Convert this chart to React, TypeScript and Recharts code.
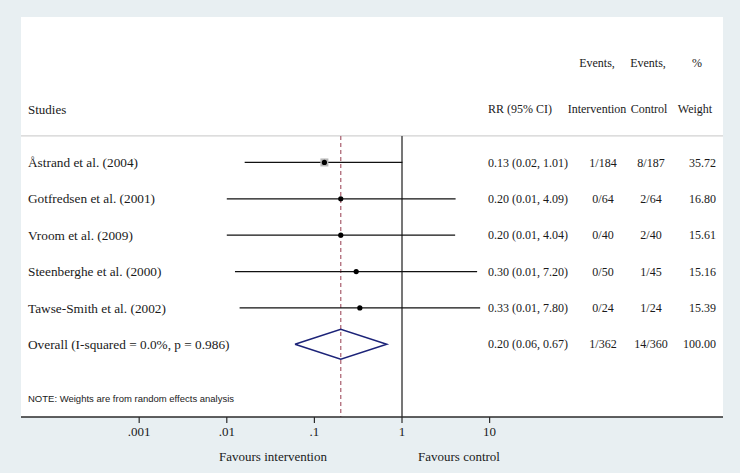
import React from "react";
import {
  ComposedChart,
  XAxis,
  YAxis,
  Scatter,
  ReferenceLine,
  CartesianGrid,
} from "recharts";

// ---- data ----
const studies = [
  "Åstrand et al. (2004)",
  "Gotfredsen et al. (2001)",
  "Vroom et al. (2009)",
  "Steenberghe et al. (2000)",
  "Tawse-Smith et al. (2002)",
];
const rr = [0.13, 0.2, 0.2, 0.3, 0.33];
const lower = [0.016, 0.01, 0.01, 0.0124, 0.014];
const upper = [1.01, 4.09, 4.04, 7.2, 7.8];
const rrLabels = [
  "0.13 (0.02, 1.01)",
  "0.20 (0.01, 4.09)",
  "0.20 (0.01, 4.04)",
  "0.30 (0.01, 7.20)",
  "0.33 (0.01, 7.80)",
];
const eventsIntervention = ["1/184", "0/64", "0/40", "0/50", "0/24"];
const eventsControl = ["8/187", "2/64", "2/40", "1/45", "1/24"];
const weights = ["35.72", "16.80", "15.61", "15.16", "15.39"];

const overallLabel = "Overall (I-squared = 0.0%, p = 0.986)";
const overallRR = 0.2;
const overallLower = 0.06;
const overallUpper = 0.67;
const overallRRLabel = "0.20 (0.06, 0.67)";
const overallIntervention = "1/362";
const overallControl = "14/360";
const overallWeight = "100.00";

const xTicks = [0.001, 0.01, 0.1, 1, 10];
const xTickLabels = [".001", ".01", ".1", "1", "10"];

// ---- layout helpers ----
const HEADER1 = -1.735;
const HEADER2 = -0.47;
const SEP = 0.27;
const NOTE = 7.5;
const OVERALL_ROW = 6;
const Y_DOMAIN: [number, number] = [-3, 8];
const X_DOMAIN: [number, number] = [Math.pow(10, -4.349), Math.pow(10, 3.664)];

const studyPoints = rr.map((v, i) => ({ x: v, y: i + 1, w: parseFloat(weights[i]) }));
const diamondH = 0.41;
const diamond = [
  { x: overallLower, y: OVERALL_ROW },
  { x: overallRR, y: OVERALL_ROW - diamondH },
  { x: overallUpper, y: OVERALL_ROW },
  { x: overallRR, y: OVERALL_ROW + diamondH },
  { x: overallLower, y: OVERALL_ROW },
];
const rowTicks = [HEADER1, HEADER2, 1, 2, 3, 4, 5, OVERALL_ROW, NOTE];

const SERIF = "'Liberation Serif', 'Times New Roman', serif";
const SANS = "'Liberation Sans', Arial, sans-serif";
const TXT = "#1a1a1a";

const COL_RR = 488;
const COL_INT = 603;
const COL_CTRL = 651;
const COL_W = 716;

const RowTick = (props: any) => {
  const { y, payload } = props;
  const v = payload.value;
  const common = { fill: TXT, fontFamily: SERIF, fontSize: 12, dy: "0.35em" };
  if (v === HEADER1) {
    return (
      <g>
        <text x={597} y={y} textAnchor="middle" {...common}>Events,</text>
        <text x={648} y={y} textAnchor="middle" {...common}>Events,</text>
        <text x={697} y={y} textAnchor="middle" {...common}>%</text>
      </g>
    );
  }
  if (v === HEADER2) {
    return (
      <g>
        <text x={28} y={y} textAnchor="start" {...common} fontSize={13}>Studies</text>
        <text x={COL_RR} y={y} textAnchor="start" {...common}>RR (95% CI)</text>
        <text x={597} y={y} textAnchor="middle" {...common}>Intervention</text>
        <text x={649} y={y} textAnchor="middle" {...common}>Control</text>
        <text x={695} y={y} textAnchor="middle" {...common}>Weight</text>
      </g>
    );
  }
  if (v === NOTE) {
    return (
      <text x={28} y={y} dy="0.35em" fill={TXT} fontFamily={SANS} fontSize={9.5}>
        NOTE: Weights are from random effects analysis
      </text>
    );
  }
  let label: string, rrl: string, ei: string, ec: string, w: string;
  if (v === OVERALL_ROW) {
    label = overallLabel; rrl = overallRRLabel; ei = overallIntervention; ec = overallControl; w = overallWeight;
  } else {
    const i = v - 1;
    label = studies[i]; rrl = rrLabels[i]; ei = eventsIntervention[i]; ec = eventsControl[i]; w = weights[i];
  }
  return (
    <g>
      <text x={28} y={y} textAnchor="start" {...common} fontSize={13.3}>{label}</text>
      <text x={COL_RR} y={y} textAnchor="start" {...common}>{rrl}</text>
      <text x={COL_INT} y={y} textAnchor="middle" {...common}>{ei}</text>
      <text x={COL_CTRL} y={y} textAnchor="middle" {...common}>{ec}</text>
      <text x={COL_W} y={y} textAnchor="end" {...common}>{w}</text>
    </g>
  );
};

const StudyMark = (props: any) => {
  const { cx, cy, payload } = props;
  const side = 8 * (payload.w / 35.72);
  return (
    <g>
      <rect x={cx - side / 2} y={cy - side / 2} width={side} height={side} fill="#b8b8b8" />
      <circle cx={cx} cy={cy} r={2.6} fill="#000" />
    </g>
  );
};

const FavoursLabel = () => (
  <g>
    <text x={273} y={456} dy="0.35em" textAnchor="middle" fill={TXT} fontFamily={SERIF} fontSize={13}>
      Favours intervention
    </text>
    <text x={459} y={456} dy="0.35em" textAnchor="middle" fill={TXT} fontFamily={SERIF} fontSize={13}>
      Favours control
    </text>
  </g>
);

export default function App() {
  return (
    <div
      style={{
        position: "absolute",
        left: 0,
        top: 0,
        width: 740,
        height: 473,
        background: "#e8eff2",
        fontFamily: SERIF,
      }}
    >
      <ComposedChart
        width={740}
        height={473}
        margin={{ top: 17, right: 17, bottom: 0, left: 21 }}
      >
        <CartesianGrid fill="#ffffff" stroke="none" horizontal={false} vertical={false} />
        <XAxis
          type="number"
          dataKey="x"
          scale="log"
          domain={X_DOMAIN}
          allowDataOverflow
          ticks={xTicks}
          interval={0}
          tickFormatter={(v: number) => xTickLabels[xTicks.indexOf(v)] ?? String(v)}
          height={56}
          axisLine={{ stroke: "#2b2b2b", strokeWidth: 1.6 }}
          tickLine={{ stroke: "#2b2b2b", strokeWidth: 1.2 }}
          tickSize={6}
          tickMargin={4}
          tick={{ fill: TXT, fontSize: 13, fontFamily: SERIF }}
          label={{ content: FavoursLabel }}
        />
        <YAxis
          type="number"
          dataKey="y"
          domain={Y_DOMAIN}
          allowDataOverflow
          reversed
          mirror
          ticks={rowTicks}
          interval={0}
          axisLine={false}
          tickLine={false}
          tick={RowTick}
        />
        <ReferenceLine y={SEP} stroke="#c6c6c6" strokeWidth={1} />
        <ReferenceLine
          segment={[{ x: overallRR, y: SEP }, { x: overallRR, y: Y_DOMAIN[1] }]}
          stroke="#a85d6c"
          strokeWidth={1.2}
          strokeDasharray="4 3"
        />
        <ReferenceLine
          segment={[{ x: 1, y: SEP }, { x: 1, y: Y_DOMAIN[1] }]}
          stroke="#555555"
          strokeWidth={1.6}
        />
        {rr.map((_, i) => (
          <ReferenceLine
            key={"ci" + i}
            segment={[{ x: lower[i], y: i + 1 }, { x: upper[i], y: i + 1 }]}
            stroke="#111111"
            strokeWidth={1.3}
          />
        ))}
        <Scatter
          data={diamond}
          isAnimationActive={false}
          line={{ stroke: "#1c2378", strokeWidth: 1.5 }}
          lineJointType="linear"
          shape={() => <g />}
        />
        <Scatter
          data={studyPoints}
          isAnimationActive={false}
          shape={StudyMark}
        />
      </ComposedChart>
    </div>
  );
}
